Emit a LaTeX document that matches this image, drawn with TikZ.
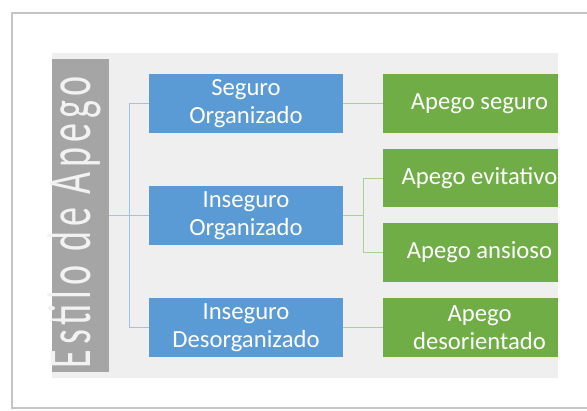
\documentclass[tikz,border=0pt]{standalone}
\usepackage{fontspec}
\setmainfont{Carlito}
\newfontfamily\titlefont[LetterSpace=13]{Carlito}
\usepackage{xcolor}
\usepackage{tikz}
\usetikzlibrary{positioning}
\definecolor{boxblue}{HTML}{5B9BD5}
\definecolor{boxgreen}{HTML}{70AD47}
\definecolor{titlegray}{HTML}{A5A5A5}
\definecolor{panelgray}{HTML}{EFEFEF}
\definecolor{lineblue}{HTML}{9DC3E6}
\definecolor{linegreen}{HTML}{A9D18E}
\definecolor{framegray}{HTML}{C4C4C4}
\tikzset{
    bluebox/.style = {rectangle, fill=boxblue, text=white, align=center, inner sep=0pt, minimum width=145.5pt, minimum height=44.25pt, font=\fontsize{18.5}{21}\selectfont},
    greenbox/.style = {rectangle, fill=boxgreen, inner sep=0pt, minimum width=131.25pt, minimum height=44pt},
    greentext/.style = {text=white, align=center, inner sep=0pt, xshift=6.75pt, font=\fontsize{18.5}{21}\selectfont},
    titlebox/.style = {rectangle, fill=titlegray, inner sep=0pt, minimum width=234.75pt, minimum height=42.75pt, rotate=90},
}

\begin{document}
\begin{tikzpicture}[
	x=0.75pt,
	y=-0.75pt
]
\tikzset{
    bline/.style = {-, draw=lineblue, line width=0.75pt},
    gline/.style = {-, draw=linegreen, line width=0.75pt}
}
\useasboundingbox (0,0) rectangle (587,411);
\clip (0,0) rectangle (587,411);
\draw[framegray, line width=1.2pt] (12,13) rectangle (620,408);
\fill[panelgray] (52,53) rectangle (558,378);
%
\node[titlebox] at (80.5,215.5) (title) {};
\node[rotate=90, anchor=base, text=white!95!black, inner sep=0pt, font=\titlefont\fontsize{46}{46}\selectfont] at (90,222) (titletext) {\scalebox{0.62}[1]{Estilo de Apego}};
%
\node[bluebox] at (246,103.5) (seg) {Seguro\\Organizado};
\node[bluebox] at (246,215.5) (inseg) {Inseguro\\Organizado};
\node[bluebox] at (246,327.5) (desorg) {Inseguro\\Desorganizado};
%
\node[greenbox, label={[greentext]center:Apego seguro}] at (470.5,103.5) (aseg) {};
\node[greenbox, label={[greentext]center:Apego evitativo}] at (470.5,178) (aevit) {};
\node[greenbox, label={[greentext]center:Apego ansioso}] at (470.5,252.5) (aans) {};
\node[greenbox, label={[greentext]center:Apego\\desorientado}] at (470.5,327.5) (ades) {};
%
\coordinate (busl) at (129,215.5);
\coordinate (busr) at (363,215.5);
\draw[bline] (title.south) -- (busl);
\draw[bline] (busl) |- (seg.west);
\draw[bline] (busl) -- (inseg.west);
\draw[bline] (busl) |- (desorg.west);
%
\draw[gline] (seg) -- (aseg);
\draw[gline] (inseg) -- (busr);
\draw[gline] (busr) |- (aevit.west);
\draw[gline] (busr) |- (aans.west);
\draw[gline] (desorg) -- (ades);
\end{tikzpicture}
\end{document}
